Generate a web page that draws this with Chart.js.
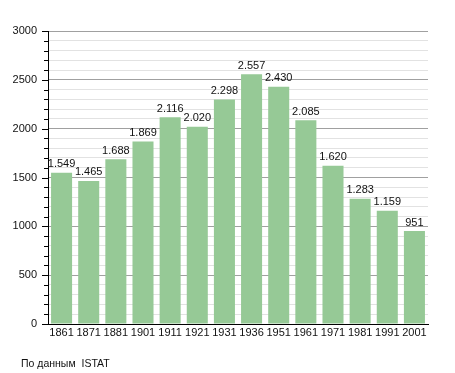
<!DOCTYPE html>
<html>
<head>
<meta charset="utf-8">
<script src="https://cdn.jsdelivr.net/npm/chart.js@4"></script>
<style>
  html, body { margin: 0; padding: 0; background: #fff; }
  #wrap { position: relative; width: 455px; height: 373px; }
  #footer { position: absolute; left: 21px; top: 357px; font: 10.5px "Liberation Sans", Arial, sans-serif; color: #111; white-space: pre; }
</style>
</head>
<body>
<div id="wrap">
  <canvas id="c" width="455" height="373"></canvas>
  <div id="footer">По данным  ISTAT</div>
</div>
<script>
const years = ["1861","1871","1881","1901","1911","1921","1931","1936","1951","1961","1971","1981","1991","2001"];
const population = [1549,1465,1688,1869,2116,2020,2298,2557,2430,2085,1620,1283,1159,951];
const yMax = 3000;
const yMajorStep = 500;
const yMinorStep = 100;

const FONT = '"Liberation Sans", Arial, sans-serif';

function fmt(v) {
  return String(v).replace(/\B(?=(\d{3})+(?!\d))/g, '.');
}

const valueLabels = {
  id: 'valueLabels',
  afterDatasetsDraw(chart) {
    const ctx = chart.ctx;
    const meta = chart.getDatasetMeta(0);
    ctx.save();
    ctx.font = '11px ' + FONT;
    ctx.fillStyle = '#111';
    ctx.textAlign = 'center';
    ctx.textBaseline = 'bottom';
    meta.data.forEach((bar, i) => {
      ctx.fillText(fmt(population[i]), bar.x, bar.y - 3);
    });
    ctx.restore();
  }
};

const axisTicks = {
  id: 'axisTicks',
  afterDraw(chart) {
    const ctx = chart.ctx;
    const y = chart.scales.y;
    const x0 = chart.chartArea.left;
    ctx.save();
    ctx.strokeStyle = '#000';
    ctx.lineWidth = 1;
    for (let v = 0; v <= yMax; v += yMinorStep) {
      const py = Math.round(y.getPixelForValue(v)) + 0.5;
      const len = (v % yMajorStep === 0) ? 6 : 4;
      ctx.beginPath();
      ctx.moveTo(x0 - len, py);
      ctx.lineTo(x0, py);
      ctx.stroke();
    }
    ctx.restore();
  }
};

new Chart(document.getElementById('c'), {
  type: 'bar',
  data: {
    labels: years,
    datasets: [{
      data: population,
      backgroundColor: 'rgb(150,201,150)',
      borderWidth: 0,
      barPercentage: 0.775,
      categoryPercentage: 1.0
    }]
  },
  options: {
    responsive: false,
    animation: false,
    events: [],
    layout: { padding: { top: 31, right: 27, bottom: 0, left: 0 } },
    plugins: {
      legend: { display: false },
      tooltip: { enabled: false }
    },
    scales: {
      x: {
        offset: true,
        grid: { display: false, drawTicks: false },
        border: { display: true, color: '#000', width: 1 },
        ticks: { color: '#111', font: { family: FONT, size: 11 }, padding: 2, maxRotation: 0, autoSkip: false },
        afterFit(scale) { scale.height = 49; }
      },
      y: {
        min: 0,
        max: yMax,
        grid: {
          color: (c) => (c.tick && c.tick.value % yMajorStep === 0) ? '#a0a0a0' : '#e2e2e2',
          drawTicks: true,
          tickLength: 6,
          tickColor: 'rgba(0,0,0,0)'
        },
        border: { display: true, color: '#000', width: 1 },
        ticks: {
          stepSize: yMinorStep,
          autoSkip: false,
          color: '#111',
          font: { family: FONT, size: 11 },
          padding: 5,
          callback: (v) => (v % yMajorStep === 0) ? String(v) : ''
        },
        afterFit(scale) { scale.width = 48; }
      }
    }
  },
  plugins: [valueLabels, axisTicks]
});
</script>
</body>
</html>
